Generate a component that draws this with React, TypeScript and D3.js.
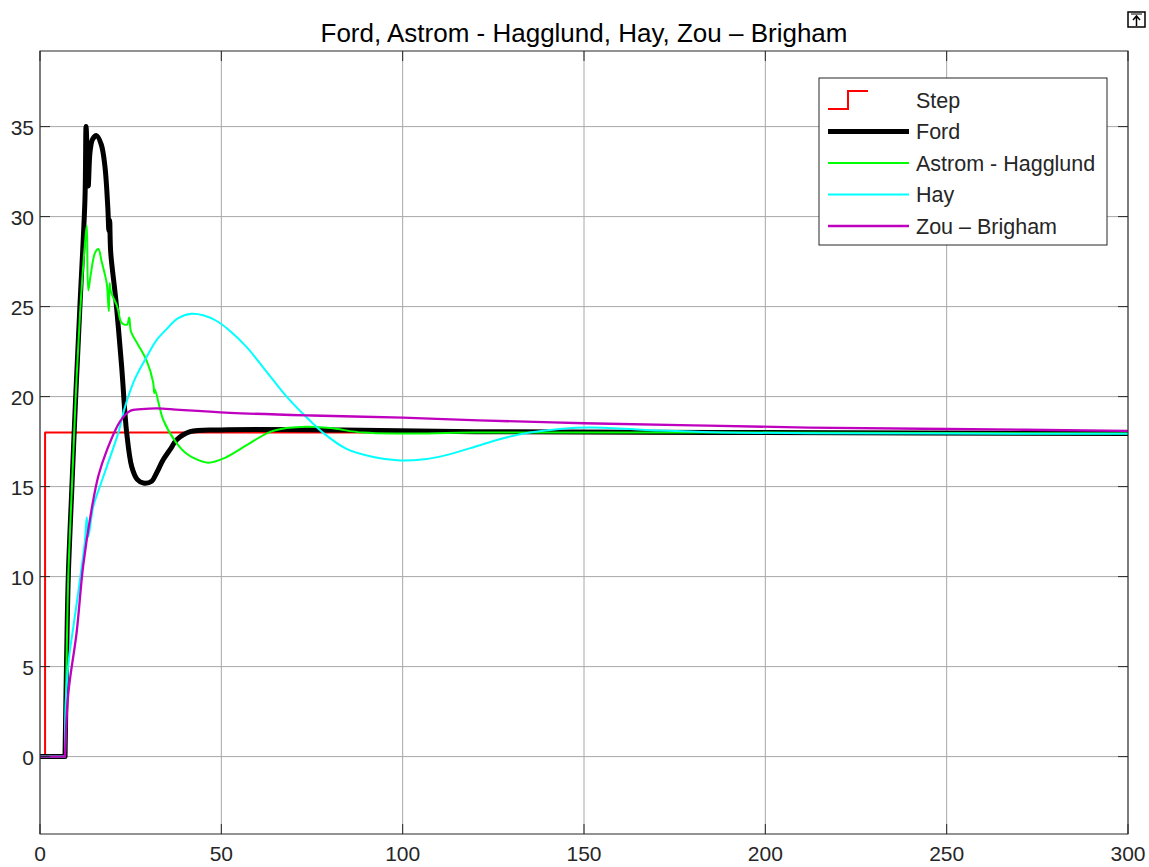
import { useEffect, useRef } from "react"
import * as d3 from "d3"

// step input
const stepT = [0, 1.4, 1.4, 300]
const stepV = [0, 0, 18, 18]

// Ford
const fordT = [0, 6.9, 7.3, 7.8, 8.8, 9.8, 11, 12.4, 12.7, 13.0, 13.3, 13.8, 14.5, 15.6, 16.9, 17.9, 18.7, 19.0, 19.2, 19.5, 20.9, 22.5, 23.9, 25.3, 26.8, 28.5, 30.8, 32, 34, 36, 37.7, 41.4, 50, 80, 120, 200, 300]
const fordV = [0, 0, 5, 10, 15, 19.8, 25, 31, 35, 33.5, 31.7, 33.6, 34.3, 34.5, 34, 32.8, 30.5, 29.2, 29.8, 28, 25.4, 21.7, 18, 16.1, 15.4, 15.2, 15.3, 15.7, 16.5, 17.1, 17.6, 18.05, 18.15, 18.15, 18.05, 18.0, 17.95]

// Astrom - Hagglund
const astromT = [0, 6.9, 7.3, 7.8, 8.8, 9.8, 11, 12.4, 12.9, 13.3, 14, 15.2, 16.1, 17, 18.4, 18.7, 19.0, 19.2, 19.6, 21.3, 22.5, 24, 24.6, 25.1, 27, 29.4, 31.2, 31.5, 31.7, 34, 37.7, 40, 42.3, 46.4, 51, 57, 63, 68, 73.5, 80, 89, 100, 120, 200, 300]
const astromV = [0, 0, 5, 10, 15, 19.8, 24.5, 28.5, 29.5, 25.9, 26.8, 28, 28.2, 27.5, 26.3, 25.5, 24.75, 26.3, 25.8, 25, 24.1, 24, 24.4, 23.6, 22.9, 22, 20.8, 20.2, 20.4, 18.7, 17.4, 16.9, 16.6, 16.33, 16.6, 17.3, 18, 18.25, 18.33, 18.25, 18.0, 17.95, 18.0, 18.0, 17.95]

// Hay
const hayT = [0, 6.9, 7.1, 8, 9.2, 11, 12.4, 12.9, 13.3, 14.7, 16.5, 18.4, 21.6, 23.4, 26, 29.4, 32, 34.9, 38, 41.8, 45, 48.7, 52.4, 57, 62, 68, 73.5, 78, 84.5, 91.9, 99.3, 106, 112, 121.3, 128, 135, 144, 151.6, 167, 185.5, 212, 250, 300]
const hayV = [0, 0, 3, 5.5, 7.2, 9.8, 12, 13.3, 12.2, 13.9, 15, 16.1, 18, 19.4, 20.9, 22.2, 23.1, 23.75, 24.35, 24.6, 24.52, 24.2, 23.65, 22.75, 21.5, 20.0, 18.85, 18.0, 17.1, 16.65, 16.45, 16.52, 16.75, 17.3, 17.7, 18, 18.22, 18.28, 18.15, 18.02, 17.97, 17.95, 17.93]

// Zou - Brigham
const zouT = [0, 6.9, 7.8, 10.1, 11.9, 14.2, 16.1, 18.4, 22, 24.8, 28, 32.2, 38.6, 52.4, 75, 100, 121, 150, 180, 212, 250, 300]
const zouV = [0, 0, 3.5, 6.9, 10.6, 13.7, 15.6, 17, 18.6, 19.2, 19.3, 19.35, 19.26, 19.1, 18.95, 18.83, 18.68, 18.52, 18.4, 18.28, 18.2, 18.1]

const xTicks = [0, 50, 100, 150, 200, 250, 300]
const yTicks = [0, 5, 10, 15, 20, 25, 30, 35]

const seriesNames = ["Step", "Ford", "Astrom - Hagglund", "Hay", "Zou \u2013 Brigham"]
const seriesColors = ["#ff0000", "#000000", "#00ff00", "#00ffff", "#bf00bf"]
const seriesWidths = [2, 5, 2, 2, 2.3]

export default function App() {
  const svgRef = useRef<SVGSVGElement>(null)

  useEffect(() => {
    if (!svgRef.current) return
    const svg = d3.select(svgRef.current)
    svg.selectAll("*").remove()

    const W = 1149
    const H = 867
    const left = 40, right = 1128, top = 51, bottom = 834
    const font = "'Liberation Sans', Arial, sans-serif"

    svg.append("rect").attr("width", W).attr("height", H).attr("fill", "#ffffff")

    const x = d3.scaleLinear().domain([0, 300]).range([left, right])
    const y = d3.scaleLinear().domain([-4.3, 39.2]).range([bottom, top])

    // grid
    const grid = svg.append("g").attr("stroke", "#a8a8a8").attr("stroke-width", 1)
    xTicks.forEach((t) => {
      grid.append("line").attr("x1", x(t)).attr("x2", x(t)).attr("y1", top).attr("y2", bottom)
    })
    yTicks.forEach((t) => {
      grid.append("line").attr("x1", left).attr("x2", right).attr("y1", y(t)).attr("y2", y(t))
    })

    // series
    const data = [
      d3.zip(stepT, stepV),
      d3.zip(fordT, fordV),
      d3.zip(astromT, astromV),
      d3.zip(hayT, hayV),
      d3.zip(zouT, zouV),
    ]
    const clip = svg.append("clipPath").attr("id", "plotclip")
    clip.append("rect").attr("x", left).attr("y", top).attr("width", right - left).attr("height", bottom - top)

    const lines = svg.append("g").attr("clip-path", "url(#plotclip)")
    const linear = d3.line<number[]>().x((d) => x(d[0])).y((d) => y(d[1]))
    const smooth = d3
      .line<number[]>()
      .x((d) => x(d[0]))
      .y((d) => y(d[1]))
      .curve(d3.curveCatmullRom.alpha(0.5))
    data.forEach((pts, i) => {
      // dead-time part is flat, rest of the response is smooth
      const d = i === 0 ? linear(pts) : linear(pts.slice(0, 2)) + smooth(pts.slice(1))!.replace(/^M/, "L")
      lines
        .append("path")
        .attr("d", d)
        .attr("fill", "none")
        .attr("stroke", seriesColors[i])
        .attr("stroke-width", seriesWidths[i])
        .attr("stroke-linejoin", "round")
    })

    // axes box and inward ticks
    const ax = svg.append("g").attr("stroke", "#262626").attr("stroke-width", 1)
    ax.append("rect")
      .attr("x", left).attr("y", top)
      .attr("width", right - left).attr("height", bottom - top)
      .attr("fill", "none")
    const tl = 10
    xTicks.forEach((t) => {
      ax.append("line").attr("x1", x(t)).attr("x2", x(t)).attr("y1", bottom).attr("y2", bottom - tl)
      ax.append("line").attr("x1", x(t)).attr("x2", x(t)).attr("y1", top).attr("y2", top + tl)
    })
    yTicks.forEach((t) => {
      ax.append("line").attr("x1", left).attr("x2", left + tl).attr("y1", y(t)).attr("y2", y(t))
      ax.append("line").attr("x1", right).attr("x2", right - tl).attr("y1", y(t)).attr("y2", y(t))
    })

    // tick labels
    xTicks.forEach((t) => {
      svg.append("text")
        .attr("x", x(t)).attr("y", 861)
        .attr("text-anchor", "middle")
        .attr("font-family", font).attr("font-size", 21)
        .attr("fill", "#262626")
        .text(t)
    })
    yTicks.forEach((t) => {
      svg.append("text")
        .attr("x", 34).attr("y", y(t) + 8)
        .attr("text-anchor", "end")
        .attr("font-family", font).attr("font-size", 21)
        .attr("fill", "#262626")
        .text(t)
    })

    // title
    svg.append("text")
      .attr("x", (left + right) / 2).attr("y", 42)
      .attr("text-anchor", "middle")
      .attr("font-family", font).attr("font-size", 26)
      .attr("fill", "#000000")
      .text("Ford, Astrom - Hagglund, Hay, Zou \u2013 Brigham")

    // legend
    const lg = svg.append("g")
    lg.append("rect")
      .attr("x", 819).attr("y", 78).attr("width", 288).attr("height", 167)
      .attr("fill", "#ffffff").attr("stroke", "#262626").attr("stroke-width", 1)
    seriesNames.forEach((name, i) => {
      const yy = 100 + i * 31.5
      if (i === 0) {
        lg.append("path")
          .attr("d", `M828,${yy + 9}H848V${yy - 9}H868`)
          .attr("fill", "none").attr("stroke", seriesColors[i]).attr("stroke-width", 2)
      } else {
        lg.append("line")
          .attr("x1", 828).attr("x2", 909).attr("y1", yy).attr("y2", yy)
          .attr("stroke", seriesColors[i]).attr("stroke-width", seriesWidths[i])
      }
      lg.append("text")
        .attr("x", 916).attr("y", yy + 7.5)
        .attr("font-family", font).attr("font-size", 21.5)
        .attr("fill", "#262626")
        .text(name)
    })

    // export icon at top right
    const ic = svg.append("g").attr("stroke", "#000").attr("fill", "none").attr("stroke-width", 1.5)
    ic.append("path").attr("d", "M1128,27V12H1145V27Z")
    ic.append("path").attr("d", "M1136.5,26V17M1133,20L1136.5,16L1140,20")
    ic.append("path").attr("d", "M1131,14H1142").attr("stroke-width", 1)
  }, [])

  return (
    <svg
      ref={svgRef}
      width={1149}
      height={867}
      style={{ position: "absolute", left: 0, top: 0, display: "block" }}
    />
  )
}
